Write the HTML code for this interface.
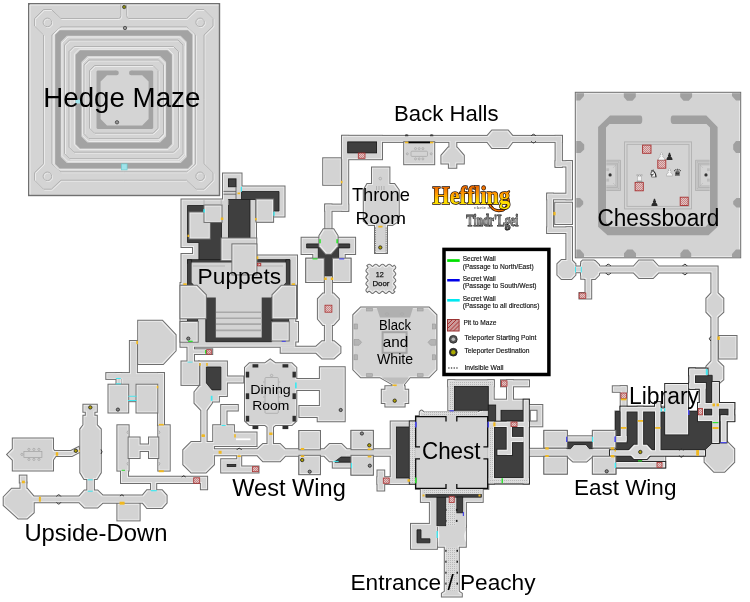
<!DOCTYPE html>
<html><head><meta charset="utf-8">
<style>
html,body{margin:0;padding:0;background:#fff;overflow:hidden;}
svg{display:block;will-change:transform;}
.rm{fill:#d3d3d3;stroke:#6e6e6e;stroke-width:1}
.dk{fill:#3f3f3f;stroke:#1a1a1a;stroke-width:.8}

</style></head><body>
<svg width="750" height="602" viewBox="0 0 750 602">
<defs>
<filter id="er" x="-2%" y="-2%" width="104%" height="104%"><feMorphology operator="erode" radius="1"/></filter>
<g id="floor">
<!-- puppets -->
<path d="M181.5 199.5 H223 V173.5 H241.5 V186.5 H284.5 V216.5 H273 V221.5 H256 V255.5 H297 V318.3 H295.3 V346.7 H180.5 V283 H181.5 V254 H193 V247 H181.5 Z"/>
<!-- upside down -->
<path d="M138.2 320.8 H162.3 L175.6 335 V350.7 L163.1 364 H138.2 Z"/>
<rect x="129.9" y="341" width="7" height="33"/>
<rect x="106.3" y="373.1" width="57.7" height="5.8"/>
<rect x="158.1" y="373.1" width="5.9" height="52"/>
<rect x="121.6" y="378.9" width="36.5" height="5.8"/>
<rect x="128.2" y="378.9" width="8.3" height="22.3"/>

<rect x="116.5" y="373.1" width="4.6" height="12"/>


<rect x="117.4" y="425.3" width="11.2" height="45.3"/>
<rect x="158.3" y="425.3" width="11.4" height="45.3"/>

<path d="M121 470.6 H128 V476.8 H207.1 V489.3 H200.9 V483 H156.2 V490.3 H151 V483 H121 Z"/>
<path d="M147 490.3 H162 L166.6 495.5 V502.8 L162 508 H147 L142.7 502.8 H102.7 L97.5 507.4 H84.5 L79.2 502.3 H33.7 V512.5 L27.1 518.4 H18.3 L3.7 505.2 V497.1 L11.7 488.8 H20.5 V482.5 H26.4 V488.8 H27.1 L33.7 496.4 H79.2 L84.5 490.5 H87.3 V478.9 H84.2 L80.3 472.6 V429.2 L83.4 425 V415.8 H85.8 V411.8 H83.4 V404.7 H96.8 V411.8 H94.4 V415.8 H96.8 V425 L100.8 429.2 V472.6 L96.8 478.9 H93.9 V490.5 H97.5 L102.7 495.5 H142.7 Z"/>
<rect x="117.4" y="503.8" width="22.2" height="16.6"/>
<rect x="19.8" y="475.6" width="6.6" height="6.9"/>
<path d="M12.8 438.4 H53 V449 L56.7 454.5 L53 460 V470.4 H12.8 V460 L7.3 454.5 L12.8 449 Z"/>
<path d="M54 451 L71 451 L78.7 447 L79.5 452 L72 456 L54 456 Z"/>
<!-- west wing -->
<rect x="187.5" y="341" width="6.5" height="21"/>
<rect x="192" y="349.3" width="20.2" height="4.7"/>
<rect x="181.5" y="361.5" width="17.4" height="23.4"/>
<path d="M198.9 361.5 H226.9 V376.4 H243.3 V382.4 H226.9 V395.9 H218.9 V401.4 H211.9 V403 L206.6 410.3 V442 H213.9 V449.2 H257.3 L263 443.9 H280 L285.3 449.3 H324.2 L329.5 443.9 H341.5 L346.8 449.3 H420 V455.8 H346.8 L341.5 461.2 H329.5 L324.2 455.8 H285.3 L280 461.2 H263 L257.3 455.2 H213.9 V464.5 L205.9 472.5 H191.3 L183.3 464.5 V449.9 L191.3 441.9 H201.3 V410.3 L194.5 403 V392 L199.5 385.9 H200.4 V363 H198.9 Z"/>
<path d="M221.2 405.1 H237.8 V410.4 H226.5 V425.3 H233.9 V432.6 H256.5 V445.9 H213.2 V425.3 H221.2 Z"/>
<path d="M221.2 459.2 H237.2 V455 H241.2 V466.5 H258.5 V472.5 H221.2 Z"/>
<path d="M249.5 363.3 H265 L270.2 359.4 L275.4 363.3 H291.8 L296.3 367.6 V379.1 H319.9 V367.3 H344.7 V421.2 H317.7 V416.9 H299.4 V406.1 H319.9 V390 H296.3 V420.7 L291.8 425 H275.4 L273 427 V444 H267.5 V427 L265 425 H249.5 L245 420.7 V367.6 Z"/>
<rect x="299.4" y="431" width="20.5" height="18.3"/>
<rect x="299.4" y="455.8" width="20.5" height="18.3"/>
<rect x="351.5" y="430.9" width="21.3" height="18.3"/>
<rect x="351.5" y="455.8" width="21.3" height="18.8"/>
<rect x="332.8" y="456" width="19.4" height="11.6"/>
<!-- back halls -->
<rect x="342.2" y="135.9" width="219.7" height="6"/>
<path d="M487.3 135.9 L492 130.6 H508 L512.5 135.9 V141.9 L508 147.9 H492 L487.3 141.9 Z"/>
<rect x="555.6" y="135.9" width="6.3" height="31"/>
<rect x="555.6" y="161.2" width="16.4" height="5.3"/>
<rect x="566.4" y="161.2" width="5.6" height="38"/>
<rect x="547.3" y="193.7" width="24.7" height="5.6"/>
<rect x="547.3" y="193.7" width="5.7" height="39.3"/>
<rect x="547.3" y="227.4" width="24.7" height="5.6"/>
<rect x="566.4" y="227.4" width="5.6" height="34.6"/>
<rect x="342.2" y="135.9" width="6" height="74.7"/>
<rect x="342.2" y="135.9" width="39.8" height="23.3"/>
<rect x="325.3" y="204.6" width="22.9" height="6.2"/>
<rect x="325.3" y="204.6" width="6.2" height="25"/>

<path d="M301.6 237.8 H355.1 V254.1 H344.7 V258.7 H350.5 V282 H333 V277.3 H323.7 V282 H306.3 V258.7 H313.3 V254.1 H301.6 Z"/>
<rect x="324.9" y="277" width="7" height="66"/>
<path d="M323 293.6 H333.5 L338.8 299 V319 L333.5 325 H323 L317.9 319 V299 Z"/>
<path d="M322 341.3 H334 L340.4 346.8 V352.8 L334 358.5 H322 L316 352.7 H280.7 V346.8 H316 Z"/>
<rect x="295" y="322" width="3" height="19.5"/>

<rect x="323.2" y="158.3" width="17.7" height="26.5"/>
<rect x="555.2" y="202.7" width="16.8" height="21.3"/>
<path d="M449.4 141 H456.3 V147.4 H456.9 L463.8 155.4 V163.4 H456.3 V167.7 H448.9 V163.4 H441.4 V155.4 L448.3 147.4 H449.4 Z"/>
<path d="M372 167.5 H389.4 V184 H394.4 L398.7 190 V220.9 L392.3 225.1 H387 V253 H375 V225.1 H368.8 L363.8 220.9 V190 L367.2 184 H372 Z"/>
<path d="M557.4 264 L561.5 259.9 H571.5 L575.4 264 V266.6 H581 V264 L585 261 H595 L599 265 V274.9 L595 278.9 H585 L581 274.9 V272.2 H575.4 V274.9 L571.5 278.9 H561.5 L557.4 274.9 Z"/>
<!-- chessboard -->
<rect x="575.8" y="92.8" width="164.4" height="164.5"/>
<!-- east corridor -->
<path d="M581.2 262 L582.7 260.5 H594 L600 266.6 H633.6 L639 260.5 H653 L658.5 266.6 H717.6 V292.9 L723.3 298.5 V312 L717.6 317.3 V361 L723.3 366.5 V379.5 L717.6 384.6 V442 H711.4 V384.6 L706.4 379.5 V366.5 L711.4 361 V317.3 L706.4 312 V298.5 L711.4 292.9 V272.6 H658.5 L653 277.9 H639 L633.6 272.6 H600 L594 278.7 H591.2 V298.6 H579.5 V292.9 H585.5 V278.7 H581.2 Z"/>
<rect x="719.1" y="336" width="17.4" height="22.5"/>
<!-- black & white -->
<path d="M360.8 307.5 H428.9 L436.4 315 V369.7 L428.9 377.2 H410 L404 384.4 V386.2 H404.6 V389.8 H408.2 V403 H404.6 V406.6 H385.4 V403 H381.8 V389.8 H385.4 V386.2 H392.6 V384.4 L380 377.2 H360.8 L353.3 369.7 V315 Z"/>
<!-- 12 door -->
<path d="M367.50 265.80 L368.06 265.25 L368.61 264.85 L369.17 264.70 L369.73 264.85 L370.28 265.25 L370.84 265.80 L371.39 266.35 L371.95 266.75 L372.51 266.90 L373.06 266.75 L373.62 266.35 L374.18 265.80 L374.73 265.25 L375.29 264.85 L375.84 264.70 L376.40 264.85 L376.96 265.25 L377.51 265.80 L378.07 266.35 L378.62 266.75 L379.18 266.90 L379.74 266.75 L380.29 266.35 L380.85 265.80 L381.41 265.25 L381.96 264.85 L382.52 264.70 L383.07 264.85 L383.63 265.25 L384.19 265.80 L384.74 266.35 L385.30 266.75 L385.86 266.90 L386.41 266.75 L386.97 266.35 L387.52 265.80 L388.08 265.25 L388.64 264.85 L389.19 264.70 L389.75 264.85 L390.31 265.25 L390.86 265.80 L391.42 266.35 L391.97 266.75 L392.53 266.90 L393.09 266.75 L393.64 266.35 L394.20 265.80 L394.20 265.80 L394.75 266.34 L395.15 266.88 L395.30 267.43 L395.15 267.97 L394.75 268.51 L394.20 269.05 L393.65 269.59 L393.25 270.13 L393.10 270.68 L393.25 271.22 L393.65 271.76 L394.20 272.30 L394.75 272.84 L395.15 273.38 L395.30 273.93 L395.15 274.47 L394.75 275.01 L394.20 275.55 L393.65 276.09 L393.25 276.63 L393.10 277.18 L393.25 277.72 L393.65 278.26 L394.20 278.80 L394.75 279.34 L395.15 279.88 L395.30 280.43 L395.15 280.97 L394.75 281.51 L394.20 282.05 L393.65 282.59 L393.25 283.13 L393.10 283.68 L393.25 284.22 L393.65 284.76 L394.20 285.30 L394.75 285.84 L395.15 286.38 L395.30 286.93 L395.15 287.47 L394.75 288.01 L394.20 288.55 L393.65 289.09 L393.25 289.63 L393.10 290.18 L393.25 290.72 L393.65 291.26 L394.20 291.80 L394.20 291.80 L393.64 292.35 L393.09 292.75 L392.53 292.90 L391.97 292.75 L391.42 292.35 L390.86 291.80 L390.31 291.25 L389.75 290.85 L389.19 290.70 L388.64 290.85 L388.08 291.25 L387.52 291.80 L386.97 292.35 L386.41 292.75 L385.86 292.90 L385.30 292.75 L384.74 292.35 L384.19 291.80 L383.63 291.25 L383.07 290.85 L382.52 290.70 L381.96 290.85 L381.41 291.25 L380.85 291.80 L380.29 292.35 L379.74 292.75 L379.18 292.90 L378.62 292.75 L378.07 292.35 L377.51 291.80 L376.96 291.25 L376.40 290.85 L375.84 290.70 L375.29 290.85 L374.73 291.25 L374.18 291.80 L373.62 292.35 L373.06 292.75 L372.51 292.90 L371.95 292.75 L371.39 292.35 L370.84 291.80 L370.28 291.25 L369.73 290.85 L369.17 290.70 L368.61 290.85 L368.06 291.25 L367.50 291.80 L367.50 291.80 L366.95 291.26 L366.55 290.72 L366.40 290.18 L366.55 289.63 L366.95 289.09 L367.50 288.55 L368.05 288.01 L368.45 287.47 L368.60 286.93 L368.45 286.38 L368.05 285.84 L367.50 285.30 L366.95 284.76 L366.55 284.22 L366.40 283.68 L366.55 283.13 L366.95 282.59 L367.50 282.05 L368.05 281.51 L368.45 280.97 L368.60 280.43 L368.45 279.88 L368.05 279.34 L367.50 278.80 L366.95 278.26 L366.55 277.72 L366.40 277.18 L366.55 276.63 L366.95 276.09 L367.50 275.55 L368.05 275.01 L368.45 274.47 L368.60 273.93 L368.45 273.38 L368.05 272.84 L367.50 272.30 L366.95 271.76 L366.55 271.22 L366.40 270.68 L366.55 270.13 L366.95 269.59 L367.50 269.05 L368.05 268.51 L368.45 267.97 L368.60 267.43 L368.45 266.88 L368.05 266.34 L367.50 265.80 Z"/>
<!-- chest complex -->
<rect x="390.7" y="421.5" width="25.5" height="62.4"/>
<rect x="377.5" y="477.2" width="37" height="6.7"/>
<rect x="377.5" y="470.5" width="6.7" height="20"/>
<path d="M419.8 412 Q421.5 408.8 423.3 412 H479 Q480.7 408.8 482.4 412 V417 H419.8 Z"/>
<rect x="482" y="409.5" width="6.3" height="8"/>
<rect x="448.3" y="380.3" width="45.4" height="6"/>
<rect x="448.3" y="380.3" width="6" height="30"/>
<rect x="488.3" y="380.3" width="5.4" height="25"/>
<rect x="501" y="380.3" width="28" height="6"/>
<rect x="507" y="380.3" width="6" height="20"/>
<rect x="488.3" y="399.7" width="40.7" height="5.3"/>
<rect x="495.7" y="405" width="46.6" height="21.3"/>
<rect x="487" y="405" width="42" height="78.4"/>
<rect x="415.9" y="416.1" width="72.4" height="72.8"/>
<rect x="420.9" y="488" width="61.8" height="13.9"/>
<rect x="429.9" y="495" width="36" height="31.8"/>
<rect x="411" y="523.9" width="25.9" height="24.9"/>
<path d="M437.9 525.8 H465.8 V546.8 H458.8 V591.6 L461.8 593.5 V596.6 H441.9 V593.5 L444.8 591.6 V546.8 H437.9 Z"/>
<!-- east wing -->
<rect x="523.9" y="448.8" width="96.1" height="7"/>
<rect x="544.4" y="430.9" width="22.4" height="16.6"/>
<rect x="544.4" y="456.8" width="22.4" height="16.8"/>
<rect x="592.9" y="430.9" width="22.4" height="16.6"/>
<rect x="592.9" y="456.8" width="22.4" height="16.8"/>
<rect x="566.8" y="436.3" width="26.1" height="5.6"/>
<path d="M567.7 449.3 L573 444.7 H586.5 L592 449.3 V456.8 L586.5 461.5 H573 L567.7 456.8 Z"/>
<!-- library -->
<rect x="612.8" y="386.3" width="13.8" height="5.5"/>
<rect x="620.7" y="386.3" width="5.9" height="22"/>
<path d="M620.7 406.8 H665.2 V411.5 H699.8 V388.7 H689.3 V368.6 H710 V384 H718.9 V403 H734.2 V421.1 H726.6 V442.1 H727.3 L734.2 449 V462 L724.5 471.7 H714 L704.6 462 V455.5 H665.2 V467.5 H615.5 V411.5 H620.7 Z"/>
<rect x="610" y="431.3" width="5.5" height="18.1"/>
<rect x="610" y="455.7" width="5.5" height="17.9"/>

</g>
<g id="r0"><rect x="189.5" y="212.5" width="20.3" height="26"/></g>
<g id="r1"><rect x="204.5" y="205.5" width="17" height="16.4"/></g>
<g id="r2"><rect x="256.5" y="199.5" width="16.6" height="22.2"/></g>
<g id="r3"><rect x="221.5" y="238.5" width="34.8" height="21.6"/></g>
<g id="r4"><rect x="232.4" y="244.4" width="24" height="30"/></g>
<g id="r5"><path d="M180.5 285.8 H196.7 L205.8 295 V318.3 H180.5 Z"/></g>
<g id="r6"><path d="M296 285.8 H281.5 L272.5 295 V318.3 H296 Z"/></g>
<g id="r7"><rect x="180.5" y="322" width="17.2" height="19.7"/></g>
<g id="r8"><rect x="272.1" y="322.3" width="16.6" height="18.2"/></g>
<g id="r9"><rect x="306.3" y="258.7" width="17.4" height="23.3"/></g>
<g id="r10"><rect x="333" y="258.7" width="17.5" height="23.3"/></g>
<g id="r11"><path d="M323.5 229.3 H333.5 L337.6 235.7 V246.2 L331 253.7 H325.8 L319.4 246.2 V235.7 Z"/></g>
<g id="r12"><rect x="299.4" y="431" width="20.5" height="18.3"/></g>
<g id="r13"><rect x="299.4" y="455.8" width="20.5" height="18.3"/></g>
<g id="r14"><rect x="351.5" y="430.9" width="21.3" height="18.3"/></g>
<g id="r15"><rect x="351.5" y="455.8" width="21.3" height="18.8"/></g>
<g id="r16"><rect x="544.4" y="430.9" width="22.4" height="16.6"/></g>
<g id="r17"><rect x="544.4" y="456.8" width="22.4" height="16.8"/></g>
<g id="r18"><rect x="592.9" y="430.9" width="22.4" height="16.6"/></g>
<g id="r19"><rect x="592.9" y="456.8" width="22.4" height="16.8"/></g>
<g id="r20"><rect x="108.5" y="384.7" width="19.7" height="27.8"/></g>
<g id="r21"><rect x="136.5" y="384.7" width="20.8" height="27.8"/></g>
<g id="r22"><rect x="404.2" y="142.2" width="30" height="22"/></g>
<g id="r23"><path d="M128.6 437.4 H139.6 V444.6 H149 V437.4 H158.3 V458.1 H149 V450.9 H139.6 V458.1 H128.6 Z"/></g>
<g id="floor2">
<!-- chest corridors in dark -->
<rect x="488.1" y="421.7" width="40.7" height="5.3"/>
<rect x="506.7" y="421.7" width="5.3" height="33.2"/>
<rect x="497.4" y="449.7" width="14.6" height="5.2"/>
<rect x="512" y="436.9" width="11.6" height="5.2"/>
<rect x="488.1" y="421.7" width="5.9" height="61.7"/>
<rect x="523.6" y="399.7" width="5.2" height="83.7"/>
<rect x="488.1" y="478.1" width="40.7" height="5.3"/>
<rect x="409.8" y="421.5" width="6" height="62"/>
<!-- library corridors -->
<rect x="620.7" y="406.8" width="39.8" height="4.7"/>
<rect x="620.7" y="406.8" width="5.9" height="34"/>
<rect x="615.5" y="436" width="11.1" height="6.3"/>
<rect x="637.6" y="406.8" width="5.5" height="40"/>
<rect x="655" y="402.1" width="5.5" height="48.9"/>
<rect x="660" y="408.4" width="6" height="3.1"/>
<rect x="665.2" y="384" width="22.9" height="50.4"/>
<rect x="712.2" y="382" width="6.7" height="61"/>
<rect x="610" y="450.2" width="95" height="5.5"/>
<path d="M627.4 451.8 L634 444.7 H647 L653.4 451.8 L647 458.9 H634 Z"/>
<rect x="615.5" y="462" width="49.7" height="5.5"/>
<rect x="689.3" y="368.6" width="18.2" height="6.7"/>
<rect x="689.3" y="368.6" width="5.7" height="20.1"/>
<rect x="689.3" y="383" width="16.3" height="5.7"/>
<rect x="699.8" y="383" width="5.8" height="22"/>
<rect x="698" y="403" width="36.2" height="5.7"/>
<rect x="698" y="403" width="6" height="18"/>
<rect x="698" y="415.4" width="20.9" height="5.7"/>
<rect x="728.5" y="403" width="5.7" height="18.1"/>
<rect x="720.8" y="415.4" width="13.4" height="5.7"/>
<rect x="720.8" y="415.4" width="5.8" height="27"/>

</g>
</defs>
<rect width="750" height="602" fill="#fff"/>
<g id="maze">
<rect x="28.7" y="3.7" width="190.8" height="191.8" fill="#d4d4d4" stroke="#707070" stroke-width="1.4"/>
<path d="M30 194.5 V5 H218.5" fill="none" stroke="#ececec" stroke-width="1"/>
<g fill="none" stroke="#ededed" stroke-width="1" transform="translate(0.9,0.9)"><path d="M118.5 18.5 L60.9 18.5 L51.4 9.5 L43.5 9.5 L34.5 18.5 L34.5 26 L43.5 34.9 L43.5 99.35"/><path d="M51.9 99.35 L51.9 34.9 L60.9 26.9 L123.75 26.9"/><path d="M123.75 180.2 L60.9 180.2 L51.4 189.2 L43.5 189.2 L34.5 180.2 L34.5 172.7 L43.5 163.8 L43.5 99.35"/><path d="M51.9 99.35 L51.9 163.8 L60.9 171.8 L123.75 171.8"/><path d="M129.0 18.5 L186.6 18.5 L196.1 9.5 L204.0 9.5 L213.0 18.5 L213.0 26 L204.0 34.9 L204.0 99.35"/><path d="M195.6 99.35 L195.6 34.9 L186.6 26.9 L123.75 26.9"/><path d="M123.75 180.2 L186.6 180.2 L196.1 189.2 L204.0 189.2 L213.0 180.2 L213.0 172.7 L204.0 163.8 L204.0 99.35"/><path d="M195.6 99.35 L195.6 163.8 L186.6 171.8 L123.75 171.8"/><path d="M118.5 18.5 Q120.8 18.5 120.8 15.5 V4.5 M129 18.5 Q126.7 18.5 126.7 15.5 V4.5"/><path d="M69.5 40 H178.0 L183.0 45 V153.7 L178.0 158.7 H69.5 L64.5 153.7 V45 Z"/><path d="M74 46.5 H173.5 L178.5 51.5 V147.2 L173.5 152.2 H74 L69 147.2 V51.5 Z"/><path d="M89 60 H158.5 L163.5 65 V133.7 L158.5 138.7 H89 L84 133.7 V65 Z"/><path d="M94.5 65.5 H153.0 L158.0 70.5 V128.2 L153.0 133.2 H94.5 L89.5 128.2 V70.5 Z"/><circle cx="47.4" cy="22.4" r="4.3"/><circle cx="47.4" cy="176.3" r="4.3"/><circle cx="200.1" cy="22.4" r="4.3"/><circle cx="200.1" cy="176.3" r="4.3"/></g>
<g fill="none" stroke="#b2b2b2" stroke-width="1"><path d="M118.5 18.5 L60.9 18.5 L51.4 9.5 L43.5 9.5 L34.5 18.5 L34.5 26 L43.5 34.9 L43.5 99.35"/><path d="M51.9 99.35 L51.9 34.9 L60.9 26.9 L123.75 26.9"/><path d="M123.75 180.2 L60.9 180.2 L51.4 189.2 L43.5 189.2 L34.5 180.2 L34.5 172.7 L43.5 163.8 L43.5 99.35"/><path d="M51.9 99.35 L51.9 163.8 L60.9 171.8 L123.75 171.8"/><path d="M129.0 18.5 L186.6 18.5 L196.1 9.5 L204.0 9.5 L213.0 18.5 L213.0 26 L204.0 34.9 L204.0 99.35"/><path d="M195.6 99.35 L195.6 34.9 L186.6 26.9 L123.75 26.9"/><path d="M123.75 180.2 L186.6 180.2 L196.1 189.2 L204.0 189.2 L213.0 180.2 L213.0 172.7 L204.0 163.8 L204.0 99.35"/><path d="M195.6 99.35 L195.6 163.8 L186.6 171.8 L123.75 171.8"/><path d="M118.5 18.5 Q120.8 18.5 120.8 15.5 V4.5 M129 18.5 Q126.7 18.5 126.7 15.5 V4.5"/><path d="M69.5 40 H178.0 L183.0 45 V153.7 L178.0 158.7 H69.5 L64.5 153.7 V45 Z"/><path d="M74 46.5 H173.5 L178.5 51.5 V147.2 L173.5 152.2 H74 L69 147.2 V51.5 Z"/><path d="M89 60 H158.5 L163.5 65 V133.7 L158.5 138.7 H89 L84 133.7 V65 Z"/><path d="M94.5 65.5 H153.0 L158.0 70.5 V128.2 L153.0 133.2 H94.5 L89.5 128.2 V70.5 Z"/><circle cx="47.4" cy="22.4" r="4.3"/><circle cx="47.4" cy="176.3" r="4.3"/><circle cx="200.1" cy="22.4" r="4.3"/><circle cx="200.1" cy="176.3" r="4.3"/></g>
<path fill="#a3a3a3" fill-rule="evenodd" d="M59.7 30.2 H187.8 L192.3 34.7 V164.0 L187.8 168.5 H59.7 L55.2 164.0 V34.7 Z M66.80000000000001 35.8 H180.70000000000002 L186.70000000000002 41.8 V156.9 L180.70000000000002 162.9 H66.80000000000001 L60.800000000000004 156.9 V41.8 Z"/>
<path fill="#a3a3a3" fill-rule="evenodd" d="M80.1 50.3 H167.4 L171.9 54.8 V143.89999999999998 L167.4 148.39999999999998 H80.1 L75.6 143.89999999999998 V54.8 Z M87.39999999999999 56.099999999999994 H160.1 L166.1 62.099999999999994 V136.59999999999997 L160.1 142.59999999999997 H87.39999999999999 L81.39999999999999 136.59999999999997 V62.099999999999994 Z"/>
<path fill="#a3a3a3" fill-rule="evenodd" d="M97.5 70.6 H152.2 L153.2 71.6 V128.1 L152.2 129.1 H97.5 L96.5 128.1 V71.6 Z M107.0 75.2 H142.2 L148.6 81.60000000000001 V119.0 L142.2 125.4 H107.0 L100.6 119.0 V81.60000000000001 Z"/>
<path fill="#d4d4d4" d="M116.2 69 H131.6 V76 H116.2 Z"/>
<circle cx="116.5" cy="72.9" r="2.3" fill="#a3a3a3"/><circle cx="131.3" cy="72.9" r="2.3" fill="#a3a3a3"/>
<path fill="none" stroke="#ececec" stroke-width="1" d="M59 29 H188.5 L193.5 34 V164.7 L188.5 169.7 H59 L54 164.7 V34 Z M79.4 49.1 H168.1 L173.1 54.1 V144.6 L168.1 149.6 H79.4 L74.4 144.6 V54.1 Z M68 37 H179.5 L185.5 43 V155.7 L179.5 161.7 H68 L62 155.7 V43 Z M88.6 57.3 H158.9 L164.9 63.3 V135.39999999999998 L158.9 141.39999999999998 H88.6 L82.6 135.39999999999998 V63.3 Z"/>
<rect x="121.3" y="163.9" width="5.8" height="6" fill="#9fe3ea" stroke="#6cc" stroke-width=".6"/>
<rect x="75.6" y="99.5" width="5.8" height="4" fill="#9fe3ea"/>
<circle cx="124.2" cy="7" r="1.7" fill="#8a8a10" stroke="#333" stroke-width=".7"/>
<circle cx="125" cy="28" r="1.7" fill="#999" stroke="#333" stroke-width=".7"/>
<circle cx="117" cy="122.3" r="1.7" fill="#999" stroke="#333" stroke-width=".7"/>
</g>

<use href="#floor" fill="#6e6e6e" stroke="#6e6e6e" stroke-width="2"/>
<use href="#floor" fill="#ececec" stroke="none"/>
<use href="#floor" fill="#d3d3d3" stroke="none" filter="url(#er)"/>
<path class="dk" d="M187.5 205.5 H221.5 V260.5 H198.9 V242.5 H187.5 Z"/>
<rect class="dk" x="228.5" y="199.5" width="21.5" height="39"/>
<path class="dk" d="M241.5 191.5 H279 V211 H273 V221.5 H256 V199.5 H241.5 Z"/>
<rect class="dk" x="187.5" y="259.7" width="102" height="3.6"/>
<path class="dk" d="M187.5 259.7 H191.6 V282.5 L197 289.2 H187.5 Z"/>
<path class="dk" d="M285.8 259.7 H290 V289.2 H280.5 L285.8 282.5 Z"/>
<path class="dk" d="M200 292.5 H277 L271.7 300 V341.7 H205.8 V300 Z"/>
<rect class="dk" x="187.5" y="318" width="10.2" height="4.2"/>
<rect class="dk" x="272.1" y="318" width="16.6" height="4.3"/>
<path fill="#d3d3d3" d="M191.6 262.5 H285.8 V282.5 L271 297.5 H261.7 V337.5 H215.8 V297.5 H206.5 L191.6 282.5 Z"/>
<g stroke="#a8a8a8" stroke-width="1.6"><path d="M216 312.3 H262 M216 318.2 H262 M216 324.1 H262 M216 330.4 H262"/></g>
<path class="dk" d="M206.4 367 H220.9 V389.9 H212 L206.4 383 Z"/>
<rect class="dk" x="227.2" y="464.5" width="8.6" height="2"/>
<path class="dk" d="M335 461.5 L341 457 H352.2 V462.2 H335 Z"/>
<rect x="236" y="438.4" width="14.5" height="1.8" fill="#fff"/>
<rect class="dk" x="347.7" y="141.9" width="28.9" height="11" style="stroke:#111;stroke-width:.8"/>
<path class="dk" d="M306.6 243.9 H349.7 V247.9 H338.6 V258.4 H332.8 V275.8 H323.5 V258.4 H318.3 V247.9 H306.6 Z"/>

<!-- chess walls -->
<g fill="#a0a0a0">
<path d="M610 115.4 H640.3 Q642.3 115.4 642.3 119.6 Q642.3 123.9 640.3 123.9 H609.5 L606 127.5 V222 L610 226.8 H705.5 L710 222 V127.5 L706.5 123.9 H672.7 Q670.7 123.9 670.7 119.6 Q670.7 115.4 672.7 115.4 H706.3 L717.6 126.9 V226.8 L708.5 235.2 H607.5 L598.1 226.8 V127 Z"/>
<path d="M576.3 93.3 H584 L584 96 L580 100.5 H576.3 Z M740 93.3 H732 V96 L736 100.5 H740 Z M576.3 257 H584 V254 L580 249.6 H576.3 Z M740 257 H732 V254 L736 249.6 H740 Z"/>
<path d="M623.8 93.3 H635.8 V97 L632.5 100.7 H627 L623.8 97 Z M680.2 93.3 H692.1 V97 L688.8 100.7 H683.5 L680.2 97 Z"/>
<path d="M624 257 H636 V253.3 L632.6 249.6 H627.4 L624 253.3 Z M680.4 257 H691.2 V253.3 L688 249.6 H683.6 L680.4 253.3 Z"/>
<path d="M576.3 141 H580.5 L584.2 144.5 V149.5 L580.5 153 H576.3 Z M576.3 198 H580 L583.2 201.3 V204.3 L580 207.6 H576.3 Z"/>
<path d="M740 141 H736 L733.2 144.5 V149.5 L736 153 H740 Z M740 198 H736.5 L733.2 201.3 V204.3 L736.5 207.6 H740 Z"/>
</g>
<g fill="none" stroke="#b4b4b4" stroke-width="1">
<rect x="624.5" y="141.9" width="67" height="67"/>
<rect x="627" y="144.4" width="62" height="62"/>
<path d="M606.3 160.3 H620.5 V190.5 H606.3"/><path d="M709.7 160.3 H695.5 V190.5 H709.7"/><path d="M606.3 161.8 H619.0 V189.0 H606.3"/><path d="M709.7 161.8 H697.0 V189.0 H709.7"/><path d="M606.3 163.3 H617.5 V187.5 H606.3"/><path d="M709.7 163.3 H698.5 V187.5 H709.7"/><path d="M606.3 164.8 H616.0 V186.0 H606.3"/><path d="M709.7 164.8 H700.0 V186.0 H709.7"/><path d="M620.5 160.3 L613 168 M620.5 190.5 L613 183 M695.5 160.3 L703 168 M695.5 190.5 L703 183" stroke-dasharray="1 .8"/>
</g>
<g fill="url(#pitp)" stroke="#a83030" stroke-width=".9">
<rect x="642.6" y="145.1" width="8.4" height="8.2"/>
<rect x="657.8" y="160" width="8" height="8.2"/>
<rect x="635.1" y="182.4" width="8.2" height="8.4"/>
<rect x="680.2" y="197.2" width="8" height="8.3"/>
</g>
<g font-size="10" text-anchor="middle" font-family="Liberation Sans">
<text x="661.6" y="160" fill="#f4f4f4" stroke="#999" stroke-width=".4">♟</text>
<text x="669.6" y="160" fill="#2a2a2a">♟</text>
<text x="653.2" y="176.5" fill="#f4f4f4" stroke="#222" stroke-width=".5">♞</text>
<text x="669.2" y="176" fill="#f4f4f4" stroke="#999" stroke-width=".4">♟</text>
<text x="677.2" y="176" fill="#2a2a2a">♛</text>
<text x="639.2" y="182" fill="#f4f4f4" stroke="#999" stroke-width=".4">♜</text>
<text x="654" y="205.5" fill="#2a2a2a">♟</text>
</g>
<!-- B&W interior -->
<g fill="#b0b0b0">
<path d="M376.6 307.5 H413.1 L410 317.4 H380 Z"/>
</g>
<rect x="382.6" y="332.2" width="24" height="20.6" fill="none" stroke="#a4a4a4" stroke-width="2"/>
<!-- chest complex dark -->
<rect class="dk" x="396.5" y="427" width="13.3" height="51"/>
<rect class="dk" x="454.3" y="386.3" width="34" height="24"/>
<rect class="dk" x="488.3" y="405" width="7.4" height="16.5"/>
<rect class="dk" x="501" y="410.3" width="22.7" height="10.7"/>
<rect x="530.3" y="410.3" width="6.7" height="10.7" fill="#fff" stroke="#6e6e6e" stroke-width="1"/>
<rect class="dk" x="494" y="427" width="29.6" height="51.1"/>
<rect class="dk" x="436.9" y="495" width="8.9" height="30.8" style="stroke:#111;stroke-width:.6"/>
<rect class="dk" x="425.9" y="494.6" width="55.5" height="2.6" style="stroke:#111;stroke-width:.6"/>
<rect class="dk" x="456.8" y="497" width="6" height="15.9" style="stroke:#111;stroke-width:.6"/>
<path class="dk" d="M417 529.8 H421 V538.8 H429.9 V542.8 H417 Z"/>
<!-- east wing dark -->
<path class="dk" d="M566.8 441.9 H592.9 V448.7 H589.3 L586 444.7 H574 L570.5 448.7 H566.8 Z" style="stroke:#111;stroke-width:.7"/>
<!-- library dark -->
<path class="dk" d="M615.5 411.5 H712.2 V443 L704.6 450.2 H615.5 Z"/>
<path class="dk" d="M615.5 455.7 H637.6 L643 462 H615.5 Z"/>
<path class="dk" d="M695 375.3 H712.2 V404.9 H705.6 V383 H695 Z"/>
<path class="dk" d="M702.7 408.7 H728.5 V415.4 H726.6 V442.1 H718.9 V415.4 H702.7 Z"/>

<use href="#floor2" fill="#4a4a4a" stroke="#2a2a2a" stroke-width="2"/>
<use href="#floor2" fill="#efefef" stroke="none"/>
<use href="#floor2" fill="#d6d6d6" stroke="none" filter="url(#er)"/>
<rect x="415.9" y="416.5" width="72" height="72" fill="#d3d3d3"/>
<g fill="none" stroke="#0a0a0a" stroke-width="1.3">
<path d="M446 421.6 V416.6 H415.7 V446.8 H420"/>
<path d="M456.8 421.6 V416.6 H487.7 V446.8 H483.4"/>
<path d="M420 458.8 H415.7 V488.4 H446 V484"/>
<path d="M483.4 458.8 H487.7 V488.4 H456.8 V484"/>
</g>

<use href="#r0" fill="#6e6e6e" stroke="#6e6e6e" stroke-width="2"/><use href="#r0" fill="#ececec"/><use href="#r0" fill="#d3d3d3" filter="url(#er)"/>
<use href="#r1" fill="#6e6e6e" stroke="#6e6e6e" stroke-width="2"/><use href="#r1" fill="#ececec"/><use href="#r1" fill="#d3d3d3" filter="url(#er)"/>
<use href="#r2" fill="#6e6e6e" stroke="#6e6e6e" stroke-width="2"/><use href="#r2" fill="#ececec"/><use href="#r2" fill="#d3d3d3" filter="url(#er)"/>
<use href="#r3" fill="#6e6e6e" stroke="#6e6e6e" stroke-width="2"/><use href="#r3" fill="#ececec"/><use href="#r3" fill="#d3d3d3" filter="url(#er)"/>
<use href="#r4" fill="#6e6e6e" stroke="#6e6e6e" stroke-width="2"/><use href="#r4" fill="#ececec"/><use href="#r4" fill="#d3d3d3" filter="url(#er)"/>
<use href="#r5" fill="#6e6e6e" stroke="#6e6e6e" stroke-width="2"/><use href="#r5" fill="#ececec"/><use href="#r5" fill="#d3d3d3" filter="url(#er)"/>
<use href="#r6" fill="#6e6e6e" stroke="#6e6e6e" stroke-width="2"/><use href="#r6" fill="#ececec"/><use href="#r6" fill="#d3d3d3" filter="url(#er)"/>
<use href="#r7" fill="#6e6e6e" stroke="#6e6e6e" stroke-width="2"/><use href="#r7" fill="#ececec"/><use href="#r7" fill="#d3d3d3" filter="url(#er)"/>
<use href="#r8" fill="#6e6e6e" stroke="#6e6e6e" stroke-width="2"/><use href="#r8" fill="#ececec"/><use href="#r8" fill="#d3d3d3" filter="url(#er)"/>
<use href="#r9" fill="#6e6e6e" stroke="#6e6e6e" stroke-width="2"/><use href="#r9" fill="#ececec"/><use href="#r9" fill="#d3d3d3" filter="url(#er)"/>
<use href="#r10" fill="#6e6e6e" stroke="#6e6e6e" stroke-width="2"/><use href="#r10" fill="#ececec"/><use href="#r10" fill="#d3d3d3" filter="url(#er)"/>
<use href="#r11" fill="#6e6e6e" stroke="#6e6e6e" stroke-width="2"/><use href="#r11" fill="#ececec"/><use href="#r11" fill="#d3d3d3" filter="url(#er)"/>
<use href="#r12" fill="#6e6e6e" stroke="#6e6e6e" stroke-width="2"/><use href="#r12" fill="#ececec"/><use href="#r12" fill="#d3d3d3" filter="url(#er)"/>
<use href="#r13" fill="#6e6e6e" stroke="#6e6e6e" stroke-width="2"/><use href="#r13" fill="#ececec"/><use href="#r13" fill="#d3d3d3" filter="url(#er)"/>
<use href="#r14" fill="#6e6e6e" stroke="#6e6e6e" stroke-width="2"/><use href="#r14" fill="#ececec"/><use href="#r14" fill="#d3d3d3" filter="url(#er)"/>
<use href="#r15" fill="#6e6e6e" stroke="#6e6e6e" stroke-width="2"/><use href="#r15" fill="#ececec"/><use href="#r15" fill="#d3d3d3" filter="url(#er)"/>
<use href="#r16" fill="#6e6e6e" stroke="#6e6e6e" stroke-width="2"/><use href="#r16" fill="#ececec"/><use href="#r16" fill="#d3d3d3" filter="url(#er)"/>
<use href="#r17" fill="#6e6e6e" stroke="#6e6e6e" stroke-width="2"/><use href="#r17" fill="#ececec"/><use href="#r17" fill="#d3d3d3" filter="url(#er)"/>
<use href="#r18" fill="#6e6e6e" stroke="#6e6e6e" stroke-width="2"/><use href="#r18" fill="#ececec"/><use href="#r18" fill="#d3d3d3" filter="url(#er)"/>
<use href="#r19" fill="#6e6e6e" stroke="#6e6e6e" stroke-width="2"/><use href="#r19" fill="#ececec"/><use href="#r19" fill="#d3d3d3" filter="url(#er)"/>
<use href="#r20" fill="#6e6e6e" stroke="#6e6e6e" stroke-width="2"/><use href="#r20" fill="#ececec"/><use href="#r20" fill="#d3d3d3" filter="url(#er)"/>
<use href="#r21" fill="#6e6e6e" stroke="#6e6e6e" stroke-width="2"/><use href="#r21" fill="#ececec"/><use href="#r21" fill="#d3d3d3" filter="url(#er)"/>
<use href="#r22" fill="#6e6e6e" stroke="#6e6e6e" stroke-width="2"/><use href="#r22" fill="#ececec"/><use href="#r22" fill="#d3d3d3" filter="url(#er)"/>
<use href="#r23" fill="#6e6e6e" stroke="#6e6e6e" stroke-width="2"/><use href="#r23" fill="#ececec"/><use href="#r23" fill="#d3d3d3" filter="url(#er)"/>
<rect x="228.5" y="178.9" width="7.5" height="7.8" fill="#3f3f3f" stroke="#222"/>
<g fill="none" stroke="#a0a0a0" stroke-width=".7">
<rect x="23.9" y="451.4" width="18" height="6"/>
<circle cx="28.9" cy="449.4" r="1.1"/><circle cx="33.9" cy="449.4" r="1.1"/><circle cx="38.9" cy="449.4" r="1.1"/>
<circle cx="28.9" cy="459.4" r="1.1"/><circle cx="33.9" cy="459.4" r="1.1"/><circle cx="38.9" cy="459.4" r="1.1"/>
<circle cx="21.9" cy="454.4" r="1.1"/>
</g>

<g fill="#2e2e2e">
<rect x="252.5" y="364.2" width="5.8" height="3.3"/><rect x="282.5" y="364.2" width="5.8" height="3.3"/>
<rect x="252.5" y="425.8" width="5.8" height="3.3"/><rect x="282.5" y="425.8" width="5.8" height="3.3"/>
<rect x="245.8" y="371.7" width="3.4" height="5.8"/><rect x="245.8" y="393.3" width="3.4" height="5.8"/><rect x="245.8" y="415.8" width="3.4" height="5.8"/>
<rect x="292.5" y="371.7" width="3.4" height="5.8"/><rect x="292.5" y="393.3" width="3.4" height="5.8"/><rect x="292.5" y="415.8" width="3.4" height="5.8"/>
</g>
<g fill="none" stroke="#a8a8a8" stroke-width=".8">
<rect x="265" y="377.5" width="13.3" height="35.8" rx="1"/>
<circle cx="271.6" cy="375.5" r="1.2"/>
<path d="M263 382 H264.5 M263 387 H264.5 M263 392 H264.5 M263 397 H264.5 M263 402 H264.5 M263 407 H264.5 M278.8 382 H280.3 M278.8 387 H280.3 M278.8 392 H280.3 M278.8 397 H280.3 M278.8 402 H280.3 M278.8 407 H280.3"/>
</g>

<g fill="#b4b4b4" stroke="#9a9a9a" stroke-width=".6">
<rect x="354" y="324" width="3.4" height="5"/><rect x="354" y="354.8" width="3.4" height="5"/>
<path d="M354 339.5 H359 L361.6 342.3 L359 345.3 H354 Z"/>
<rect x="432.3" y="324" width="3.4" height="5"/><rect x="432.3" y="354.8" width="3.4" height="5"/>
<path d="M435.7 339.5 H430.7 L428 342.3 L430.7 345.3 H435.7 Z"/>
<rect x="366.6" y="308.2" width="5.8" height="2.8"/><rect x="417.3" y="308.2" width="5.8" height="2.8"/>
<rect x="366.6" y="373.7" width="5.8" height="2.8"/><rect x="417.3" y="373.7" width="5.8" height="2.8"/>
</g>
<g fill="none" stroke="#a8a8a8" stroke-width=".7"><ellipse cx="387" cy="314" rx="2" ry="1.2"/><ellipse cx="402" cy="314" rx="2" ry="1.2"/></g>

<g fill="#3a3a3a"><path d="M405 136.3 V134.8 Q406.6 133.6 408.3 134.8 V136.3 Z M430 136.3 V134.8 Q431.6 133.6 433.3 134.8 V136.3 Z"/></g>
<g fill="none" stroke="#a4a4a4" stroke-width=".7">
<rect x="411" y="151.2" width="16.5" height="5.2" rx="1"/>
<circle cx="415.5" cy="148.6" r="1"/><circle cx="419.2" cy="148.6" r="1"/><circle cx="422.9" cy="148.6" r="1"/>
<circle cx="415.5" cy="158.9" r="1"/><circle cx="419.2" cy="158.9" r="1"/><circle cx="422.9" cy="158.9" r="1"/>
<circle cx="407.3" cy="153.8" r="1"/><circle cx="431.2" cy="153.8" r="1"/>
<circle cx="380.3" cy="178.6" r="1.3"/>
<path d="M376.5 186 V190 M379 186 V190 M381.5 186 V190 M384 186 V190"/>
</g>

<g fill="none" stroke="#333" stroke-width=".6" stroke-dasharray="1.2 1"><path d="M375.5 227.5 V252.8 M386.2 227.5 V252.8"/></g>

<g fill="none" stroke="#333" stroke-width="1">
<path d="M605.8 266 Q608.3 262.5 610.8 266 M605.8 273 Q608.3 276.5 610.8 273"/>
<path d="M682.6 266 Q684.9 262.5 687.2 266 M682.6 273 Q684.9 276.5 687.2 273"/>
<path d="M710.8 336.5 Q707.8 338.8 710.8 341"/>
<path d="M56.5 496.5 Q58.7 493 60.9 496.5 M56.5 502.3 Q58.7 505.8 60.9 502.3"/>
<path d="M119.9 496 Q121.9 493.5 123.9 496"/>
<path d="M181.7 477 Q183.7 474.5 185.7 477"/>
<path d="M679.4 450.5 Q681.4 447 683.3 450.5 M679.4 455.5 Q681.4 459 683.3 455.5"/>
<path d="M236.7 450 Q239.2 446.5 241.7 450"/>
<path d="M531.2 136 Q533.5 132.5 535.8 136 M531.2 141.2 Q533.5 144.7 535.8 141.2"/>
</g>

<path d="M381 377.6 H409 L403.6 383.8 H393 Z" fill="#bdbdbd"/>

<g fill="#1e1e1e">
<rect x="445.3" y="549.8" width="2" height="2"/><rect x="456" y="549.8" width="2" height="2"/>
<rect x="445.3" y="560.7" width="2" height="2"/><rect x="456" y="560.7" width="2" height="2"/>
<rect x="445.3" y="571.7" width="2" height="2"/><rect x="456" y="571.7" width="2" height="2"/>
<rect x="445.3" y="582.6" width="2" height="2"/><rect x="456" y="582.6" width="2" height="2"/>
<rect x="446" y="508.9" width="2" height="2"/><rect x="455.5" y="508.9" width="2" height="2"/>
<rect x="446" y="519.9" width="2" height="2"/><rect x="455.5" y="519.9" width="2" height="2"/>
</g>
<g fill="#f8f8f8" opacity=".9"><path d="M437.9 530 Q441 536.3 437.9 542.6 Z M465.8 530 Q462.7 536.3 465.8 542.6 Z"/></g>

<g fill="#bdbdbd"><rect x="606.3" y="168.3" width="2.8" height="2.8"/><rect x="606.3" y="178.6" width="2.8" height="3"/><rect x="707" y="168.3" width="2.8" height="2.8"/><rect x="707" y="178.6" width="2.8" height="3"/></g>
<circle cx="610.1" cy="174.9" r="1.6" fill="#333"/><circle cx="706" cy="174.9" r="1.6" fill="#333"/>

<g fill="none" stroke="#999" stroke-width=".7">
<path d="M128 430.5 Q126 432.3 128 434 M128 462 Q126 463.8 128 465.5 M158.9 430.5 Q160.9 432.3 158.9 434 M158.9 462 Q160.9 463.8 158.9 465.5"/>
</g>
<path d="M101 449.5 Q103 451.8 101 454" fill="none" stroke="#333" stroke-width="1"/>

<rect x="408.3" y="141.6" width="21.7" height="1.7" fill="#000"/>

<g fill="none" stroke="#555" stroke-width=".8">
<path d="M223.5 191.4 H236 M223.5 194.2 H236 M236 186.6 V199.2"/>
</g>
<g fill="none" stroke="#aaa" stroke-width=".7">
<path d="M204 199.5 V205 M221.2 199.5 V205 M228.4 199.5 V205 M193 266 H225 M258 266 H283"/>
</g>

<defs><pattern id="pitp" width="2" height="2" patternUnits="userSpaceOnUse"><rect width="2" height="2" fill="#e4c4c4"/><rect width="1" height="1" fill="#c88888"/><rect x="1" y="1" width="1" height="1" fill="#c88888"/></pattern><pattern id="dotp" width="2" height="2" patternUnits="userSpaceOnUse"><rect width="2" height="2" fill="#dcdcdc"/><rect width="1" height="1" fill="#b8b8b8"/></pattern></defs>
<g fill="url(#dotp)"><rect x="410.2" y="422.5" width="4.6" height="61"/><rect x="489.2" y="428" width="4" height="49"/><rect x="424" y="411.3" width="54" height="4"/><rect x="424" y="489.8" width="56" height="4"/><rect x="490" y="479.2" width="37.5" height="3.2"/><rect x="446.5" y="502.5" width="9.3" height="23"/><rect x="446.5" y="547.5" width="10" height="43"/><rect x="449.5" y="381.3" width="4" height="28"/><rect x="449.5" y="381.3" width="43" height="4"/></g>
<rect x="240.8" y="186.7" width="1.2" height="5.0" fill="#40e8f0"/>
<rect x="237.5" y="192.5" width="2.5" height="1.7" fill="#f0b820"/>
<rect x="203.3" y="209.2" width="1.7" height="3.3" fill="#40e8f0"/>
<rect x="220.8" y="217.5" width="2.5" height="2.5" fill="#f0b820"/>
<rect x="187.5" y="234.7" width="1.7" height="2.3" fill="#f0b820"/>
<rect x="255" y="218" width="1.7" height="2.3" fill="#f0b820"/>
<rect x="273.3" y="211.7" width="1.4" height="4.1" fill="#40e8f0"/>
<rect x="256.7" y="256.3" width="1.6" height="2.9" fill="#f0b820"/>
<rect x="257.5" y="263.3" width="3.3" height="2.5" fill="url(#pitp)" stroke="#a83030" stroke-width=".8"/>
<rect x="183.3" y="283.3" width="3.4" height="1.7" fill="#f0b820"/>
<rect x="291.7" y="283.3" width="3.3" height="1.7" fill="#f0b820"/>
<circle cx="188.3" cy="338.6" r="1.6" fill="#888" stroke="#222" stroke-width=".8"/>
<rect x="188.3" y="340.8" width="4.2" height="1.1" fill="#30e030"/>
<rect x="205" y="350" width="1.7" height="3.7" fill="#30e030"/>
<rect x="206.7" y="349.7" width="4.6" height="4.5" fill="url(#pitp)" stroke="#a83030" stroke-width=".8"/>
<rect x="281.7" y="340.8" width="4.1" height="1.1" fill="#4848e8"/>
<rect x="136.3" y="340.8" width="1.7" height="3.4" fill="#f0b820"/>
<rect x="115.8" y="378" width="5.0" height="1" fill="#40e8f0"/>
<rect x="115.8" y="383.3" width="5.0" height="1.0" fill="#40e8f0"/>
<rect x="128.3" y="395.8" width="8.4" height="0.9" fill="#40e8f0"/>
<rect x="128.3" y="400" width="8.4" height="0.8" fill="#40e8f0"/>
<rect x="156.7" y="385.8" width="1.6" height="2.5" fill="#f0b820"/>
<rect x="187.5" y="361.7" width="5.0" height="0.8" fill="#40e8f0"/>
<rect x="199.2" y="363" width="1.6" height="2.8" fill="#f0b820"/>
<rect x="206.2" y="363" width="1.6" height="2.8" fill="#f0b820"/>
<rect x="210.8" y="395.8" width="1.7" height="5.0" fill="#40e8f0"/>
<rect x="55.8" y="452.2" width="2.4" height="3.6" fill="#f0b820"/>
<circle cx="75.8" cy="450.8" r="1.7" fill="#b0a000" stroke="#222" stroke-width=".8"/>
<rect x="78.7" y="449.8" width="1.0" height="2.4" fill="#f0b820"/>
<circle cx="90.3" cy="407.4" r="1.7" fill="#b0a000" stroke="#222" stroke-width=".8"/>
<rect x="87.7" y="479.3" width="5.0" height="1.0" fill="#40e8f0"/>
<rect x="87.7" y="490.7" width="5.0" height="1.0" fill="#40e8f0"/>
<rect x="21.9" y="480.7" width="3.0" height="2.6" fill="#f0b820"/>
<rect x="38.9" y="496.7" width="2.0" height="5.0" fill="#f0b820"/>
<rect x="119.6" y="501.7" width="5.0" height="3.0" fill="#f0b820"/>
<rect x="121.6" y="469.8" width="3.4" height="1.0" fill="#30e030"/>
<circle cx="117.9" cy="409.6" r="1.6" fill="#888" stroke="#222" stroke-width=".8"/>
<rect x="127.9" y="400" width="8.0" height="1" fill="#40e8f0"/>
<rect x="158.8" y="423.9" width="5.0" height="1.6" fill="#f0b820"/>
<rect x="158.8" y="470.2" width="5.0" height="2.0" fill="#f0b820"/>
<rect x="193.7" y="477.8" width="6.0" height="5.5" fill="url(#pitp)" stroke="#a83030" stroke-width=".8"/>
<rect x="150.8" y="490.1" width="6.0" height="1.2" fill="#40e8f0"/>
<rect x="201.7" y="434.3" width="3.0" height="2.6" fill="#f0b820"/>
<rect x="218.6" y="450.8" width="3.0" height="3.0" fill="#f0b820"/>
<rect x="221.6" y="424.9" width="3.0" height="1.0" fill="#40e8f0"/>
<rect x="188.3" y="340.8" width="4.2" height="1.2" fill="#30e030"/>
<rect x="295" y="382.5" width="1.7" height="5.8" fill="#40e8f0"/>
<rect x="269.2" y="432.5" width="3.3" height="2.5" fill="#f0b820"/>
<rect x="201.7" y="435" width="3.3" height="1.7" fill="#f0b820"/>
<rect x="221.7" y="425" width="4.1" height="0.8" fill="#40e8f0"/>
<rect x="234.2" y="434.2" width="1.6" height="3.3" fill="#f0b820"/>
<rect x="300.8" y="448" width="3.4" height="2" fill="#f0b820"/>
<rect x="300.8" y="455.3" width="3.4" height="1.7" fill="#f0b820"/>
<circle cx="302.2" cy="460" r="1.7" fill="#b0a000" stroke="#222" stroke-width=".8"/>
<circle cx="309.7" cy="471.7" r="1.6" fill="#888" stroke="#222" stroke-width=".8"/>
<rect x="237.5" y="455.3" width="3.3" height="1.7" fill="#f0b820"/>
<rect x="252.5" y="466.7" width="5.8" height="5.0" fill="url(#pitp)" stroke="#a83030" stroke-width=".8"/>
<circle cx="340.7" cy="410" r="1.6" fill="#888" stroke="#222" stroke-width=".8"/>
<rect x="392.6" y="384.5" width="4.1" height="1.6" fill="#f0b820"/>
<circle cx="394.7" cy="400.7" r="1.7" fill="#b0a000" stroke="#222" stroke-width=".8"/>
<circle cx="361.9" cy="433.5" r="1.6" fill="#888" stroke="#222" stroke-width=".8"/>
<circle cx="369.3" cy="445.3" r="1.7" fill="#b0a000" stroke="#222" stroke-width=".8"/>
<rect x="367.7" y="448.4" width="3.7" height="1.7" fill="#f0b820"/>
<rect x="367.7" y="455.7" width="3.7" height="1.7" fill="#f0b820"/>
<circle cx="369.8" cy="465.7" r="1.6" fill="#888" stroke="#222" stroke-width=".8"/>
<rect x="333.4" y="460.9" width="5.2" height="1.0" fill="#40e8f0"/>
<rect x="351" y="463" width="1.1" height="5.2" fill="#40e8f0"/>
<rect x="415" y="422.5" width="1.5" height="4.1" fill="#4848e8"/>
<rect x="358.3" y="153" width="6.7" height="5.3" fill="url(#pitp)" stroke="#a83030" stroke-width=".8"/>
<rect x="405" y="141.7" width="3.3" height="1.6" fill="#f0b820"/>
<rect x="430" y="141.7" width="3.3" height="1.6" fill="#f0b820"/>
<rect x="340.8" y="180.8" width="1.7" height="2.5" fill="#f0b820"/>
<rect x="319.2" y="239.2" width="1.6" height="4.1" fill="#30e030"/>
<rect x="336.3" y="239.2" width="1.7" height="4.1" fill="#30e030"/>
<rect x="312.5" y="258.3" width="5.0" height="1.2" fill="#30e030"/>
<rect x="339.2" y="258.3" width="5.0" height="1.2" fill="#4848e8"/>
<rect x="324.2" y="277.5" width="2.5" height="2.5" fill="#f0b820"/>
<rect x="330.8" y="277.5" width="2.5" height="2.5" fill="#f0b820"/>
<rect x="378.3" y="225.8" width="4.2" height="1.7" fill="#f0b820"/>
<circle cx="380.3" cy="247.5" r="1.7" fill="#b0a000" stroke="#222" stroke-width=".8"/>
<rect x="325" y="305.2" width="6.9" height="7.0" fill="url(#pitp)" stroke="#a83030" stroke-width=".8"/>
<rect x="575" y="266.7" width="1" height="5.8" fill="#40e8f0"/>
<rect x="580.8" y="266.7" width="1.0" height="5.8" fill="#40e8f0"/>
<rect x="579.2" y="293" width="6.6" height="5.3" fill="url(#pitp)" stroke="#a83030" stroke-width=".8"/>
<rect x="717.4" y="336.4" width="2.4" height="3.5" fill="#f0b820"/>
<rect x="705.8" y="369" width="1.2" height="5.8" fill="#40e8f0"/>
<rect x="553.3" y="211.9" width="2.3" height="3.4" fill="#f0b820"/>
<rect x="449.6" y="410.2" width="4.2" height="1.2" fill="#4848e8"/>
<rect x="383.3" y="478" width="5.9" height="5.3" fill="url(#pitp)" stroke="#a83030" stroke-width=".8"/>
<rect x="407.5" y="479.2" width="2.5" height="2.5" fill="#f0b820"/>
<rect x="415" y="477.5" width="1.7" height="5.8" fill="#30e030"/>
<rect x="415" y="421.7" width="1.5" height="5.8" fill="#4848e8"/>
<rect x="487.5" y="421.7" width="1.5" height="5.8" fill="#4848e8"/>
<rect x="422.5" y="494.5" width="2.0" height="2.0" fill="#f0b820"/>
<rect x="478.5" y="494.5" width="2.0" height="2.0" fill="#f0b820"/>
<rect x="449.2" y="496.3" width="5.0" height="6.2" fill="url(#pitp)" stroke="#a83030" stroke-width=".8"/>
<rect x="436.5" y="531" width="1.4" height="7" fill="#40e8f0"/>
<rect x="462.8" y="512" width="1.2" height="4" fill="#4848e8"/>
<rect x="566" y="436.7" width="1.3" height="5.3" fill="#4848e8"/>
<rect x="592" y="436.7" width="1.3" height="5.3" fill="#40e8f0"/>
<rect x="545.3" y="447.3" width="3.4" height="2.3" fill="#f0b820"/>
<rect x="545.3" y="455" width="3.4" height="2" fill="#f0b820"/>
<rect x="610.7" y="447.3" width="3.3" height="2.3" fill="#f0b820"/>
<rect x="610.7" y="455" width="3.3" height="2" fill="#f0b820"/>
<rect x="614.7" y="436.7" width="1.3" height="5.3" fill="#4848e8"/>
<rect x="614.7" y="462.7" width="1.3" height="5.3" fill="#40e8f0"/>
<circle cx="606.7" cy="471.3" r="1.6" fill="#888" stroke="#222" stroke-width=".8"/>
<rect x="620.9" y="393" width="5.5" height="5.5" fill="url(#pitp)" stroke="#a83030" stroke-width=".8"/>
<rect x="621" y="398.5" width="5.4" height="1.8" fill="#f0b820"/>
<rect x="621" y="427" width="5.4" height="1.8" fill="#f0b820"/>
<rect x="637.8" y="420" width="5.2" height="1.8" fill="#f0b820"/>
<rect x="655.2" y="427" width="5.2" height="1.8" fill="#f0b820"/>
<rect x="660.5" y="408.2" width="1.5" height="3.3" fill="#40e8f0"/>
<rect x="664" y="408.2" width="1.4" height="3.3" fill="#40e8f0"/>
<rect x="688" y="410" width="1.5" height="5" fill="#4848e8"/>
<rect x="614.5" y="436.5" width="1.5" height="5.5" fill="#4848e8"/>
<rect x="614.5" y="449.5" width="1.5" height="2.0" fill="#f0b820"/>
<circle cx="640.3" cy="452" r="1.7" fill="#b0a000" stroke="#222" stroke-width=".8"/>
<rect x="638" y="460.3" width="4" height="1.2" fill="#30e030"/>
<rect x="657" y="462.5" width="5" height="4.8" fill="url(#pitp)" stroke="#a83030" stroke-width=".8"/>
<rect x="611" y="455.5" width="3.5" height="2.0" fill="#f0b820"/>
<rect x="614.8" y="463" width="1.2" height="5" fill="#40e8f0"/>
<rect x="696.2" y="450" width="2.8" height="5.7" fill="#f0b820"/>
<rect x="698.3" y="408.5" width="4.3" height="6.3" fill="url(#pitp)" stroke="#a83030" stroke-width=".8"/>
<rect x="712.5" y="403.5" width="2.5" height="2.8" fill="#f0b820"/>
<rect x="716.5" y="403.5" width="2.5" height="2.8" fill="#f0b820"/>
<rect x="712.5" y="422" width="6.0" height="1.2" fill="#30e030"/>
<rect x="712.5" y="427" width="6.0" height="2" fill="#f0b820"/>
<rect x="720.5" y="442" width="6.1" height="1.2" fill="#4848e8"/>
<rect x="706.5" y="369.5" width="1.3" height="5.5" fill="#40e8f0"/>
<rect x="501.5" y="380.8" width="5.5" height="5.4" fill="url(#pitp)" stroke="#a83030" stroke-width=".8"/>
<rect x="493.3" y="422.3" width="2.2" height="4.2" fill="#f0b820"/>
<rect x="511" y="422" width="6" height="4.5" fill="url(#pitp)" stroke="#a83030" stroke-width=".8"/>
<rect x="501.5" y="478.3" width="1.5" height="4.9" fill="#30e030"/>
<g id="legend">
<rect x="444" y="249.4" width="104.9" height="125.1" fill="#fff" stroke="#000" stroke-width="3.5"/>
<rect x="447.2" y="259.2" width="12.5" height="2.7" fill="#00e000"/>
<rect x="447.2" y="279" width="12.5" height="2.5" fill="#0000e8"/>
<rect x="447.2" y="299" width="12.5" height="2.6" fill="#00e8f0"/>
<g font-family="Liberation Sans" font-size="7" fill="#111" stroke="#111" stroke-width=".15">
<text x="462.7" y="261" textLength="33" lengthAdjust="spacingAndGlyphs">Secret Wall</text>
<text x="462.7" y="268.5" textLength="71" lengthAdjust="spacingAndGlyphs">(Passage to North/East)</text>
<text x="462.7" y="280.7" textLength="33" lengthAdjust="spacingAndGlyphs">Secret Wall</text>
<text x="462.7" y="288.3" textLength="73.9" lengthAdjust="spacingAndGlyphs">(Passage to South/West)</text>
<text x="462.7" y="300.7" textLength="33" lengthAdjust="spacingAndGlyphs">Secret Wall</text>
<text x="462.7" y="308" textLength="76.7" lengthAdjust="spacingAndGlyphs">(Passage to all directions)</text>
<text x="463.4" y="324.8" textLength="33" lengthAdjust="spacingAndGlyphs">Pit to Maze</text>
<text x="464.4" y="340" textLength="71.9" lengthAdjust="spacingAndGlyphs">Teleporter Starting Point</text>
<text x="464.4" y="352.7" textLength="65.1" lengthAdjust="spacingAndGlyphs">Teleporter Destination</text>
<text x="464.4" y="369.6" textLength="39" lengthAdjust="spacingAndGlyphs">Invisible Wall</text>
</g>
<rect x="447.5" y="319.5" width="11.6" height="11.5" fill="#c99" stroke="#933" stroke-width="1"/>
<path d="M448 324 L452.5 319.5 M448 328 L456.5 319.5 M449.5 331 L459 321.5 M453.5 331 L459 325.5" stroke="#a33" stroke-width="1"/>
<circle cx="453.3" cy="339.3" r="3.9" fill="#555" stroke="#222" stroke-width=".8"/>
<circle cx="453.3" cy="339.3" r="1.8" fill="#bbb"/>
<circle cx="453.3" cy="352.2" r="3.9" fill="#333" stroke="#222" stroke-width=".8"/>
<circle cx="453.3" cy="352.2" r="2.2" fill="#aa0"/>
<path d="M448.2 368 H458.4" stroke="#000" stroke-width="1.2" stroke-dasharray="1.3 1.4"/>
</g>
<g id="logo">
<defs>
<linearGradient id="hg" x1="0" y1="0" x2="0" y2="1">
<stop offset="0" stop-color="#d84000"/><stop offset=".45" stop-color="#ff9800"/><stop offset=".7" stop-color="#ffd800"/><stop offset="1" stop-color="#fff000"/>
</linearGradient>
<linearGradient id="tg" x1="0" y1="0" x2="0" y2="1">
<stop offset="0" stop-color="#3a3a3a"/><stop offset=".55" stop-color="#9a9a9a"/><stop offset="1" stop-color="#2a2a2a"/>
</linearGradient>
</defs>
<path d="M489 203 Q493 213 503 210 Q511 205 507 196" fill="none" stroke="#1a0800" stroke-width="3"/><path d="M489 203 Q493 213 503 210 Q511 205 507 196" fill="none" stroke="#f07000" stroke-width="1.6"/>
<text x="432.5" y="203.5" font-family="Liberation Serif" font-weight="bold" font-size="26" textLength="77.5" lengthAdjust="spacingAndGlyphs" fill="url(#hg)" stroke="#1a0800" stroke-width="1.5" paint-order="stroke">Heffling</text>
<text x="474" y="208.5" font-family="Liberation Serif" font-size="4" fill="#444" textLength="18" lengthAdjust="spacingAndGlyphs">cleric of</text>
<text x="466.3" y="226.3" font-family="Liberation Serif" font-weight="bold" font-size="17.5" textLength="52" lengthAdjust="spacingAndGlyphs" fill="url(#tg)" stroke="#111" stroke-width="1" paint-order="stroke">Tindr'Lgei</text>
</g>

<g fill="#000" font-family="Liberation Sans">
<text x="43.3" y="106.7" font-size="28.12" textLength="157.0" lengthAdjust="spacingAndGlyphs">Hedge Maze</text>
<text x="394.1" y="121.4" font-size="22.46" textLength="104.5" lengthAdjust="spacingAndGlyphs">Back Halls</text>
<text x="351.9" y="200.8" font-size="18.55" textLength="58.0" lengthAdjust="spacingAndGlyphs">Throne</text>
<text x="355.6" y="223.5" font-size="16.96" textLength="50.5" lengthAdjust="spacingAndGlyphs">Room</text>
<text x="597.4" y="225.8" font-size="24.35" textLength="122.0" lengthAdjust="spacingAndGlyphs">Chessboard</text>
<text x="197.6" y="284.1" font-size="21.88" textLength="83.5" lengthAdjust="spacingAndGlyphs">Puppets</text>
<text x="379.1" y="330.0" font-size="13.91" textLength="32.0" lengthAdjust="spacingAndGlyphs">Black</text>
<text x="382.7" y="347.0" font-size="13.9" textLength="25.5" lengthAdjust="spacingAndGlyphs">and</text>
<text x="377.0" y="363.6" font-size="13.91" textLength="36.0" lengthAdjust="spacingAndGlyphs">White</text>
<text x="250.3" y="393.8" font-size="12.9" textLength="40.5" lengthAdjust="spacingAndGlyphs">Dining</text>
<text x="252.3" y="410.1" font-size="12.9" textLength="37.0" lengthAdjust="spacingAndGlyphs">Room</text>
<text x="629.0" y="403.8" font-size="24.35" textLength="70.0" lengthAdjust="spacingAndGlyphs">Library</text>
<text x="422.0" y="458.8" font-size="24.78" textLength="58.5" lengthAdjust="spacingAndGlyphs">Chest</text>
<text x="232.3" y="495.6" font-size="23.33" textLength="113.5" lengthAdjust="spacingAndGlyphs">West Wing</text>
<text x="573.9" y="494.8" font-size="22.46" textLength="102.5" lengthAdjust="spacingAndGlyphs">East Wing</text>
<text x="24.4" y="541.0" font-size="23.19" textLength="143.0" lengthAdjust="spacingAndGlyphs">Upside-Down</text>
<text x="350.5" y="589.9" font-size="22.03" textLength="185.0" lengthAdjust="spacingAndGlyphs">Entrance / Peachy</text>
</g>
<g fill="#111" stroke="#111" stroke-width=".25" font-family="Liberation Sans" font-size="7.8"><text x="375.8" y="277" textLength="8" lengthAdjust="spacingAndGlyphs">12</text><text x="372.4" y="286" textLength="17" lengthAdjust="spacingAndGlyphs">Door</text></g>

</svg>
</body></html>
